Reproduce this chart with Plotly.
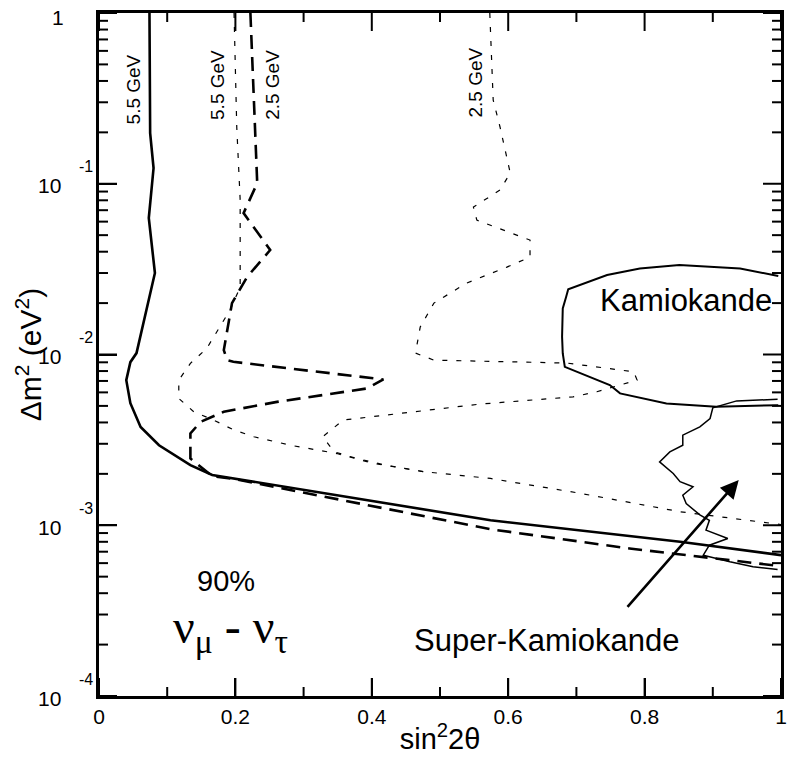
import numpy as np
import plotly.graph_objects as go

# sin^2(2 theta) vs delta m^2 (eV^2)
solid_55_x = [0.074, 0.075, 0.080, 0.073, 0.082, 0.055, 0.046, 0.040, 0.046, 0.061,
              0.088, 0.134, 0.166, 0.574, 0.852, 1.0]
solid_55_y = [1.0, 0.198, 0.1236, 0.0630, 0.0300, 0.01019, 0.00902, 0.00708, 0.00519, 0.00376,
              0.00294, 0.00225, 0.00197, 0.00107, 0.00080, 0.000668]

dash_25_x = [0.222, 0.232, 0.212, 0.251, 0.217, 0.195, 0.183, 0.188, 0.197, 0.261,
             0.417, 0.393, 0.261, 0.183, 0.149, 0.134, 0.134, 0.166, 0.20, 0.574,
             0.778, 1.0]
dash_25_y = [1.0, 0.1009, 0.0673, 0.0409, 0.0284, 0.0200, 0.01061, 0.00927, 0.00906, 0.00847,
             0.00714, 0.00633, 0.00528, 0.00462, 0.00403, 0.00345, 0.00246, 0.00194, 0.00186,
             0.000948, 0.000731, 0.000576]

dot_55_x = [0.198, 0.202, 0.207, 0.207, 0.192, 0.158, 0.134, 0.117, 0.117, 0.139,
            0.168, 0.198, 0.227, 0.281, 0.349, 0.403, 0.476, 0.574, 0.705, 0.852, 1.0]
dot_55_y = [1.0, 0.215, 0.0803, 0.0248, 0.0182, 0.01086, 0.00887, 0.00708, 0.00553, 0.00462,
            0.00413, 0.00361, 0.00330, 0.00294, 0.00263, 0.00230, 0.00206, 0.00188, 0.00154,
            0.00120, 0.00101]

dot_25_x = [0.573, 0.578, 0.588, 0.603, 0.588, 0.549, 0.554, 0.632, 0.632, 0.598,
            0.539, 0.491, 0.471, 0.464, 0.491, 0.686, 0.784, 0.789, 0.730, 0.695,
            0.558, 0.358, 0.328, 0.345, 0.378, 0.420, 0.476]
dot_25_y = [1.0, 0.309, 0.215, 0.1156, 0.0919, 0.0730, 0.0612, 0.0468, 0.0372, 0.0325,
            0.0262, 0.0200, 0.01448, 0.01019, 0.00927, 0.00891, 0.00792, 0.00708, 0.00605,
            0.00565, 0.00512, 0.00413, 0.00330, 0.00269, 0.00246, 0.00225, 0.00206]

kam_x = [0.996, 0.940, 0.851, 0.793, 0.745, 0.688, 0.685, 0.680, 0.679, 0.680,
         0.683, 0.749, 0.764, 0.832, 0.905, 0.996]
kam_y = [0.0288, 0.0319, 0.0334, 0.0319, 0.0292, 0.0241, 0.0218, 0.0186, 0.01270, 0.01014,
         0.00847, 0.00662, 0.00592, 0.00517, 0.00494, 0.00505]

sk_x = [0.995, 0.935, 0.900, 0.896, 0.881, 0.856, 0.856, 0.837, 0.822, 0.842,
        0.852, 0.871, 0.856, 0.861, 0.881, 0.895, 0.890, 0.922, 0.895, 0.886,
        0.925, 0.959, 0.995]
sk_y = [0.00546, 0.00535, 0.00487, 0.00422, 0.00377, 0.00337, 0.00294, 0.00269, 0.00235, 0.00201,
        0.00180, 0.00168, 0.00150, 0.00134, 0.00115, 0.00107, 0.000936, 0.000837, 0.000764, 0.000668,
        0.000611, 0.000571, 0.000551]

energy_labels = ["5.5 GeV", "5.5 GeV", "2.5 GeV", "2.5 GeV"]
energy_label_x = [0.052, 0.1745, 0.255, 0.552]
energy_label_y = [0.359, 0.379, 0.379, 0.394]

y_tick_exps = [-4, -3, -2, -1]
x_tick_vals = [0, 0.2, 0.4, 0.6, 0.8, 1]
x_tick_text = ["0", "0.2", "0.4", "0.6", "0.8", "1"]
x_minor_vals = [0.1, 0.3, 0.5, 0.7, 0.9]
y_minor_vals = [k * 10.0 ** e for e in y_tick_exps for k in range(2, 10)]

FONT = "Liberation Sans, Arial, sans-serif"
W, H = 788, 767
M_L, M_R, M_T, M_B = 99, 7, 13, 71
X_LO, X_HI = 0.0, 1.0
Y_LO, Y_HI = -4, 0  # log10 range of the y axis
MAJOR_LEN, MINOR_LEN = 18, 9  # tick lengths in pixels

fig = go.Figure()


def add_line(x, y, width, dash="solid"):
    fig.add_trace(go.Scatter(x=x, y=y, mode="lines", showlegend=False, hoverinfo="skip",
                             line=dict(color="black", width=width, dash=dash)))


add_line(dot_55_x, dot_55_y, 1.2, "5px,9px")
add_line(dot_25_x, dot_25_y, 1.2, "5px,9px")
add_line(kam_x, kam_y, 2)
add_line(sk_x, sk_y, 1.5)
add_line(dash_25_x, dash_25_y, 2.6, "14px,8px")
add_line(solid_55_x, solid_55_y, 2.6)

# inward frame ticks on all four sides, drawn as one broken line in data units
px_x = (X_HI - X_LO) / (W - M_L - M_R)          # x data units per pixel
px_ylog = (Y_HI - Y_LO) / (H - M_T - M_B)       # log10 decades per pixel
tx, ty = [], []
for xv, tl in [(v, MAJOR_LEN) for v in x_tick_vals] + [(v, MINOR_LEN) for v in x_minor_vals]:
    f = 10 ** (tl * px_ylog)
    tx += [xv, xv, None, xv, xv, None]
    ty += [10.0 ** Y_LO, 10.0 ** Y_LO * f, None, 10.0 ** Y_HI, 10.0 ** Y_HI / f, None]
for yv, tl in [(10.0 ** e, MAJOR_LEN) for e in y_tick_exps + [0]] + [(v, MINOR_LEN) for v in y_minor_vals]:
    d = tl * px_x
    tx += [X_LO, X_LO + d, None, X_HI, X_HI - d, None]
    ty += [yv, yv, None, yv, yv, None]
fig.add_trace(go.Scatter(x=tx, y=ty, mode="lines", showlegend=False, hoverinfo="skip",
                         cliponaxis=False, connectgaps=False,
                         line=dict(color="black", width=2)))

ann = []
for txt, lx, ly in zip(energy_labels, energy_label_x, energy_label_y):
    ann.append(dict(x=lx, y=np.log10(ly), text=txt, textangle=-90, showarrow=False,
                    font=dict(size=19, family=FONT)))

ann.append(dict(x=0.860, y=np.log10(0.0206), text="Kamiokande", showarrow=False,
                font=dict(size=31, family=FONT)))
ann.append(dict(x=0.656, y=np.log10(0.000212), text="Super-Kamiokande", showarrow=False,
                font=dict(size=31, family=FONT)))
ann.append(dict(x=0.186, y=np.log10(0.000471), text="90%", showarrow=False,
                font=dict(size=29, family=FONT)))
ann.append(dict(x=0.193, y=np.log10(0.000200), text="ν<sub>μ</sub> - ν<sub>τ</sub>", showarrow=False,
                yshift=15, font=dict(size=48, family="Liberation Serif, Times New Roman, serif")))

# arrow pointing into the Super-Kamiokande region
ann.append(dict(x=0.938, y=np.log10(0.00184), ax=0.773, ay=np.log10(0.000326),
                xref="x", yref="y", axref="x", ayref="y", text="", showarrow=True,
                arrowhead=2, arrowsize=1.4, arrowwidth=2.6, arrowcolor="black"))

# y tick labels written as 10 with a raised exponent
for e in y_tick_exps:
    ann.append(dict(x=-0.0532, y=e, xref="paper", yref="y", text="10", showarrow=False,
                    xanchor="right", yanchor="middle", yshift=-2,
                    font=dict(size=21, family=FONT)))
    ann.append(dict(x=-0.0327, y=e, xref="paper", yref="y", text=str(e), showarrow=False,
                    xanchor="left", yanchor="middle", yshift=17,
                    font=dict(size=16, family=FONT)))
ann.append(dict(x=-0.049, y=0, xref="paper", yref="y", text="1", showarrow=False,
                xanchor="right", yanchor="middle", yshift=-4,
                font=dict(size=21, family=FONT)))

fig.update_layout(
    width=W, height=H,
    margin=dict(l=M_L, r=M_R, t=M_T, b=M_B),
    plot_bgcolor="white", paper_bgcolor="white",
    font=dict(family=FONT, color="black"),
    annotations=ann,
    xaxis=dict(range=[X_LO, X_HI], tickvals=x_tick_vals, ticktext=x_tick_text,
               tickfont=dict(size=21), ticks="inside", ticklen=MAJOR_LEN, tickwidth=2,
               tickcolor="black",
               showline=True, linecolor="black", linewidth=2.6, mirror=True,
               showgrid=False, zeroline=False, automargin=False,
               title=dict(text="sin<sup>2</sup>2θ", font=dict(size=29), standoff=2)),
    yaxis=dict(type="log", range=[Y_LO, Y_HI], dtick=1, showticklabels=False,
               ticks="inside", ticklen=MAJOR_LEN, tickwidth=2, tickcolor="black",
               showline=True, linecolor="black", linewidth=2.6, mirror=True,
               showgrid=False, zeroline=False, automargin=False,
               title=dict(text="Δm<sup>2</sup> (eV<sup>2</sup>)", font=dict(size=30), standoff=46)),
)

# drop the page's default body margin so the figure sits at the window corner
fig.write_html("out.html", config={"displayModeBar": False},
               post_script="document.body.style.margin='0';document.body.style.overflow='hidden';")
